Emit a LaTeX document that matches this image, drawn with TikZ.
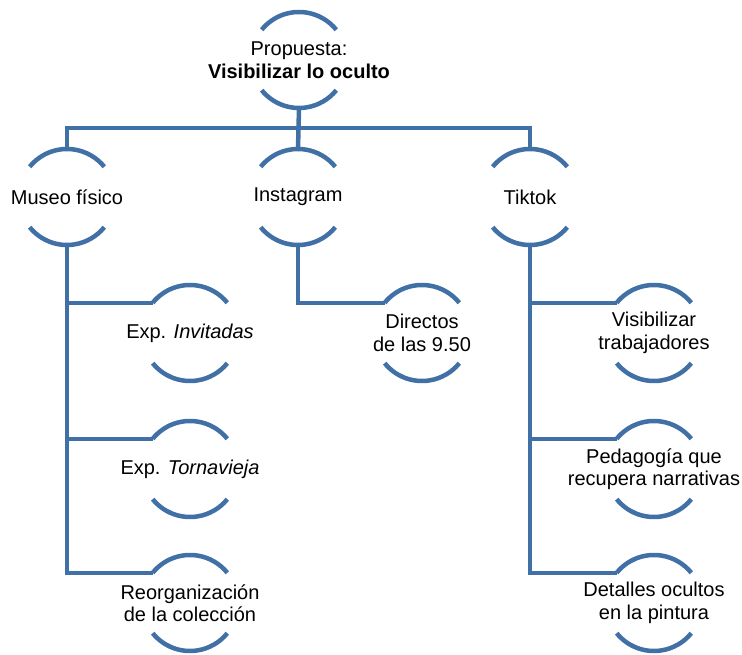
\documentclass[tikz,border=0pt]{standalone}
\usepackage{fontspec}
\setmainfont{Liberation Sans}
\definecolor{lncol}{RGB}{65,112,166}
\newcommand\ringarcs[1]{%
  \draw[ringline] ([shift={(141:48)}]#1.center) arc[start angle=141,end angle=39,radius=48];
  \draw[ringline] ([shift={(-141:48)}]#1.center) arc[start angle=-141,end angle=-39,radius=48];}
\begin{document}
\begin{tikzpicture}[x=1pt,y=1pt,
  ringline/.style={draw=lncol,line width=4.5pt},
  conn/.style={draw=lncol,line width=4.5pt},
  lbl/.style={inner sep=0pt,align=center,font=\fontsize{20}{22.5}\selectfont}]
\useasboundingbox (0,0) rectangle (742,655);
% nodes
\node[lbl] (root) at (299,595) {Propuesta:\\\textbf{Visibilizar lo oculto}};
\node[lbl] (museo) at (67,458) {Museo físico};
\node[lbl] (insta) at (298,458) {Instagram};
\node[lbl] (tiktok) at (530,458) {Tiktok};
\node[lbl] (inv) at (190,322) {Exp. \textit{Invitadas}};
\node[lbl] (torn) at (190,186) {Exp. \textit{Tornavieja}};
\node[lbl] (reorg) at (190,52) {Reorganización\\de la colección};
\node[lbl] (dir) at (422,322) {Directos\\de las 9.50};
\node[lbl] (vis) at (654,322) {Visibilizar\\trabajadores};
\node[lbl] (ped) at (654,186) {Pedagogía que\\recupera narrativas};
\node[lbl] (det) at (654,52) {Detalles ocultos\\en la pintura};
% rings
\ringarcs{root}
\ringarcs{museo}
\ringarcs{insta}
\ringarcs{tiktok}
\ringarcs{inv}
\ringarcs{torn}
\ringarcs{reorg}
\ringarcs{dir}
\ringarcs{vis}
\ringarcs{ped}
\ringarcs{det}
% connectors
\draw[conn] ([yshift=-48]root.center) -- ([yshift=48]insta.center);
\draw[conn] ([yshift=48]museo.center) -- ++(0,21) -| ([yshift=48]tiktok.center);
\draw[conn] ([yshift=-48]museo.center) |- ([shift={(141:48)}]reorg.center);
\draw[conn] ([shift={(141:48)}]inv.center) -| ([yshift=-48]museo.center);
\draw[conn] ([shift={(141:48)}]torn.center) -| ([yshift=-48]museo.center);
\draw[conn] ([yshift=-48]insta.center) |- ([shift={(141:48)}]dir.center);
\draw[conn] ([yshift=-48]tiktok.center) |- ([shift={(141:48)}]det.center);
\draw[conn] ([shift={(141:48)}]vis.center) -| ([yshift=-48]tiktok.center);
\draw[conn] ([shift={(141:48)}]ped.center) -| ([yshift=-48]tiktok.center);
\end{tikzpicture}
\end{document}
